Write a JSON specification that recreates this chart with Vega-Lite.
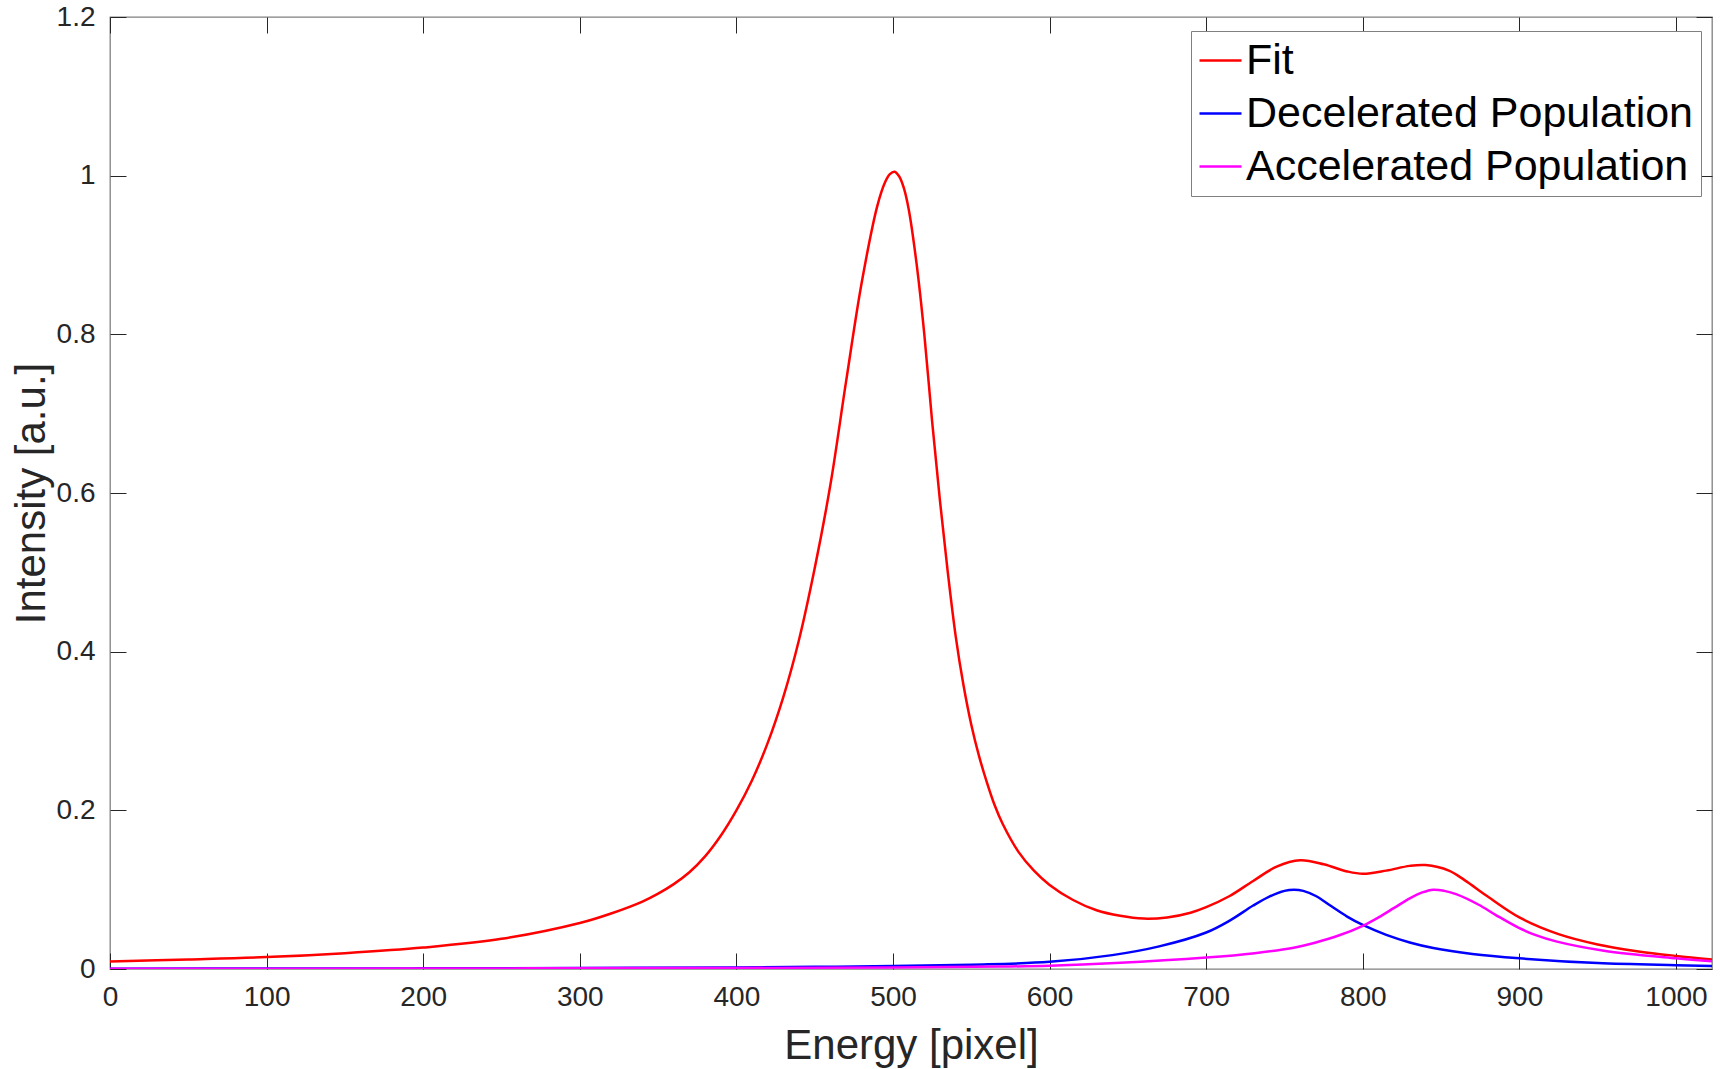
{
  "$schema": "https://vega.github.io/schema/vega-lite/v6.json",
  "width": 1602,
  "height": 952,
  "autosize": {"type": "none"},
  "padding": {"left": 110, "top": 17, "right": 17, "bottom": 100},
  "background": "white",
  "config": {
    "view": {"stroke": "#808080", "strokeWidth": 1.3},
    "font": "Liberation Sans"
  },
  "datasets": {
    "curves": [
      {"E": 0, "I": 0.0095, "series": "Fit"},
      {"E": 50, "I": 0.012, "series": "Fit"},
      {"E": 100, "I": 0.015, "series": "Fit"},
      {"E": 150, "I": 0.02, "series": "Fit"},
      {"E": 200, "I": 0.027, "series": "Fit"},
      {"E": 250, "I": 0.038, "series": "Fit"},
      {"E": 300, "I": 0.058, "series": "Fit"},
      {"E": 320, "I": 0.07, "series": "Fit"},
      {"E": 340, "I": 0.085, "series": "Fit"},
      {"E": 350, "I": 0.095, "series": "Fit"},
      {"E": 360, "I": 0.107, "series": "Fit"},
      {"E": 370, "I": 0.122, "series": "Fit"},
      {"E": 380, "I": 0.142, "series": "Fit"},
      {"E": 390, "I": 0.168, "series": "Fit"},
      {"E": 400, "I": 0.2, "series": "Fit"},
      {"E": 410, "I": 0.238, "series": "Fit"},
      {"E": 420, "I": 0.285, "series": "Fit"},
      {"E": 430, "I": 0.343, "series": "Fit"},
      {"E": 440, "I": 0.415, "series": "Fit"},
      {"E": 450, "I": 0.505, "series": "Fit"},
      {"E": 460, "I": 0.61, "series": "Fit"},
      {"E": 470, "I": 0.74, "series": "Fit"},
      {"E": 480, "I": 0.865, "series": "Fit"},
      {"E": 490, "I": 0.962, "series": "Fit"},
      {"E": 495, "I": 0.992, "series": "Fit"},
      {"E": 498, "I": 1.002, "series": "Fit"},
      {"E": 501, "I": 1.005, "series": "Fit"},
      {"E": 504, "I": 0.999, "series": "Fit"},
      {"E": 507, "I": 0.984, "series": "Fit"},
      {"E": 510, "I": 0.958, "series": "Fit"},
      {"E": 515, "I": 0.89, "series": "Fit"},
      {"E": 520, "I": 0.8, "series": "Fit"},
      {"E": 525, "I": 0.69, "series": "Fit"},
      {"E": 530, "I": 0.59, "series": "Fit"},
      {"E": 535, "I": 0.5, "series": "Fit"},
      {"E": 540, "I": 0.42, "series": "Fit"},
      {"E": 545, "I": 0.358, "series": "Fit"},
      {"E": 550, "I": 0.308, "series": "Fit"},
      {"E": 555, "I": 0.268, "series": "Fit"},
      {"E": 560, "I": 0.235, "series": "Fit"},
      {"E": 565, "I": 0.206, "series": "Fit"},
      {"E": 570, "I": 0.183, "series": "Fit"},
      {"E": 580, "I": 0.148, "series": "Fit"},
      {"E": 590, "I": 0.124, "series": "Fit"},
      {"E": 600, "I": 0.106, "series": "Fit"},
      {"E": 615, "I": 0.087, "series": "Fit"},
      {"E": 630, "I": 0.074, "series": "Fit"},
      {"E": 645, "I": 0.067, "series": "Fit"},
      {"E": 660, "I": 0.0635, "series": "Fit"},
      {"E": 675, "I": 0.065, "series": "Fit"},
      {"E": 690, "I": 0.071, "series": "Fit"},
      {"E": 700, "I": 0.078, "series": "Fit"},
      {"E": 715, "I": 0.092, "series": "Fit"},
      {"E": 730, "I": 0.111, "series": "Fit"},
      {"E": 745, "I": 0.129, "series": "Fit"},
      {"E": 760, "I": 0.137, "series": "Fit"},
      {"E": 775, "I": 0.132, "series": "Fit"},
      {"E": 790, "I": 0.123, "series": "Fit"},
      {"E": 800, "I": 0.12, "series": "Fit"},
      {"E": 815, "I": 0.124, "series": "Fit"},
      {"E": 830, "I": 0.13, "series": "Fit"},
      {"E": 840, "I": 0.131, "series": "Fit"},
      {"E": 855, "I": 0.124, "series": "Fit"},
      {"E": 865, "I": 0.112, "series": "Fit"},
      {"E": 880, "I": 0.091, "series": "Fit"},
      {"E": 900, "I": 0.065, "series": "Fit"},
      {"E": 925, "I": 0.044, "series": "Fit"},
      {"E": 950, "I": 0.031, "series": "Fit"},
      {"E": 975, "I": 0.0225, "series": "Fit"},
      {"E": 1000, "I": 0.0165, "series": "Fit"},
      {"E": 1023, "I": 0.012, "series": "Fit"},

      {"E": 0, "I": 0.0004, "series": "Decelerated Population"},
      {"E": 100, "I": 0.0006, "series": "Decelerated Population"},
      {"E": 200, "I": 0.0008, "series": "Decelerated Population"},
      {"E": 300, "I": 0.0012, "series": "Decelerated Population"},
      {"E": 400, "I": 0.002, "series": "Decelerated Population"},
      {"E": 450, "I": 0.0027, "series": "Decelerated Population"},
      {"E": 500, "I": 0.0037, "series": "Decelerated Population"},
      {"E": 550, "I": 0.0055, "series": "Decelerated Population"},
      {"E": 600, "I": 0.009, "series": "Decelerated Population"},
      {"E": 640, "I": 0.0175, "series": "Decelerated Population"},
      {"E": 670, "I": 0.0285, "series": "Decelerated Population"},
      {"E": 700, "I": 0.046, "series": "Decelerated Population"},
      {"E": 715, "I": 0.061, "series": "Decelerated Population"},
      {"E": 730, "I": 0.08, "series": "Decelerated Population"},
      {"E": 740, "I": 0.091, "series": "Decelerated Population"},
      {"E": 750, "I": 0.0985, "series": "Decelerated Population"},
      {"E": 756, "I": 0.1, "series": "Decelerated Population"},
      {"E": 762, "I": 0.0985, "series": "Decelerated Population"},
      {"E": 770, "I": 0.092, "series": "Decelerated Population"},
      {"E": 780, "I": 0.079, "series": "Decelerated Population"},
      {"E": 790, "I": 0.066, "series": "Decelerated Population"},
      {"E": 800, "I": 0.0555, "series": "Decelerated Population"},
      {"E": 815, "I": 0.043, "series": "Decelerated Population"},
      {"E": 830, "I": 0.0335, "series": "Decelerated Population"},
      {"E": 845, "I": 0.0265, "series": "Decelerated Population"},
      {"E": 870, "I": 0.019, "series": "Decelerated Population"},
      {"E": 900, "I": 0.0135, "series": "Decelerated Population"},
      {"E": 950, "I": 0.0075, "series": "Decelerated Population"},
      {"E": 1000, "I": 0.0048, "series": "Decelerated Population"},
      {"E": 1023, "I": 0.0038, "series": "Decelerated Population"},

      {"E": 0, "I": 0.0003, "series": "Accelerated Population"},
      {"E": 200, "I": 0.0006, "series": "Accelerated Population"},
      {"E": 400, "I": 0.0013, "series": "Accelerated Population"},
      {"E": 500, "I": 0.002, "series": "Accelerated Population"},
      {"E": 568, "I": 0.003, "series": "Accelerated Population"},
      {"E": 600, "I": 0.0042, "series": "Accelerated Population"},
      {"E": 642, "I": 0.0075, "series": "Accelerated Population"},
      {"E": 700, "I": 0.0145, "series": "Accelerated Population"},
      {"E": 731, "I": 0.02, "series": "Accelerated Population"},
      {"E": 755, "I": 0.0265, "series": "Accelerated Population"},
      {"E": 770, "I": 0.0335, "series": "Accelerated Population"},
      {"E": 785, "I": 0.0425, "series": "Accelerated Population"},
      {"E": 800, "I": 0.0545, "series": "Accelerated Population"},
      {"E": 810, "I": 0.065, "series": "Accelerated Population"},
      {"E": 820, "I": 0.077, "series": "Accelerated Population"},
      {"E": 830, "I": 0.089, "series": "Accelerated Population"},
      {"E": 838, "I": 0.0965, "series": "Accelerated Population"},
      {"E": 845, "I": 0.1, "series": "Accelerated Population"},
      {"E": 852, "I": 0.0985, "series": "Accelerated Population"},
      {"E": 860, "I": 0.094, "series": "Accelerated Population"},
      {"E": 874, "I": 0.081, "series": "Accelerated Population"},
      {"E": 885, "I": 0.068, "series": "Accelerated Population"},
      {"E": 899, "I": 0.0525, "series": "Accelerated Population"},
      {"E": 910, "I": 0.043, "series": "Accelerated Population"},
      {"E": 924, "I": 0.0345, "series": "Accelerated Population"},
      {"E": 954, "I": 0.0231, "series": "Accelerated Population"},
      {"E": 1000, "I": 0.0135, "series": "Accelerated Population"},
      {"E": 1023, "I": 0.0097, "series": "Accelerated Population"}
    ]
  },
  "data": {"name": "curves"},
  "layer": [
    {
      "mark": {"type": "line", "interpolate": "catmull-rom", "strokeWidth": 2.5, "clip": true},
      "encoding": {
        "x": {
          "field": "E", "type": "quantitative",
          "scale": {"domain": [0, 1023], "nice": false, "zero": false},
          "axis": {
            "orient": "bottom",
            "values": [0, 100, 200, 300, 400, 500, 600, 700, 800, 900, 1000],
            "format": "d",
            "title": "Energy [pixel]",
            "titleFont": "Liberation Sans", "titleFontSize": 42, "titleFontWeight": "normal",
            "titleColor": "#262626", "titleY": 89, "titleBaseline": "alphabetic",
            "grid": false, "domain": false,
            "tickSize": -16, "tickColor": "#262626", "tickWidth": 1,
            "labelFont": "Liberation Sans", "labelFontSize": 28, "labelColor": "#262626",
            "labelPadding": 30, "labelFlush": false, "labelOverlap": false
          }
        },
        "y": {
          "field": "I", "type": "quantitative",
          "scale": {"domain": [0, 1.2], "nice": false, "zero": false},
          "axis": {
            "orient": "left",
            "values": [0, 0.2, 0.4, 0.6, 0.8, 1, 1.2],
            "format": "~g",
            "title": "Intensity [a.u.]",
            "titleFont": "Liberation Sans", "titleFontSize": 42, "titleFontWeight": "normal",
            "titleColor": "#262626", "titleX": -66, "titleBaseline": "alphabetic",
            "grid": false, "domain": false,
            "tickSize": -16, "tickColor": "#262626", "tickWidth": 1,
            "labelFont": "Liberation Sans", "labelFontSize": 28, "labelColor": "#262626",
            "labelPadding": 31, "labelOverlap": false
          }
        },
        "color": {
          "field": "series", "type": "nominal",
          "scale": {
            "domain": ["Fit", "Decelerated Population", "Accelerated Population"],
            "range": ["#ff0000", "#0000ff", "#ff00ff"]
          },
          "legend": {
            "orient": "none", "legendX": 1081, "legendY": 14,
            "title": null,
            "symbolType": "stroke", "symbolSize": 1764, "symbolStrokeWidth": 2.5,
            "labelFont": "Liberation Sans", "labelFontSize": 43, "labelColor": "#000000",
            "labelLimit": 700, "labelOffset": 3,
            "padding": 7, "rowPadding": 8,
            "strokeColor": "#808080", "fillColor": "#ffffff"
          }
        }
      }
    },
    {
      "mark": {"type": "point", "opacity": 0},
      "encoding": {
        "x": {
          "field": "E", "type": "quantitative",
          "axis": {
            "orient": "top",
            "values": [0, 100, 200, 300, 400, 500, 600, 700, 800, 900, 1000],
            "title": null, "labels": false, "grid": false, "domain": false,
            "tickSize": -16, "tickColor": "#262626", "tickWidth": 1
          }
        },
        "y": {
          "field": "I", "type": "quantitative",
          "axis": {
            "orient": "right",
            "values": [0, 0.2, 0.4, 0.6, 0.8, 1, 1.2],
            "title": null, "labels": false, "grid": false, "domain": false,
            "tickSize": -16, "tickColor": "#262626", "tickWidth": 1
          }
        }
      }
    }
  ],
  "resolve": {"axis": {"x": "independent", "y": "independent"}}
}
